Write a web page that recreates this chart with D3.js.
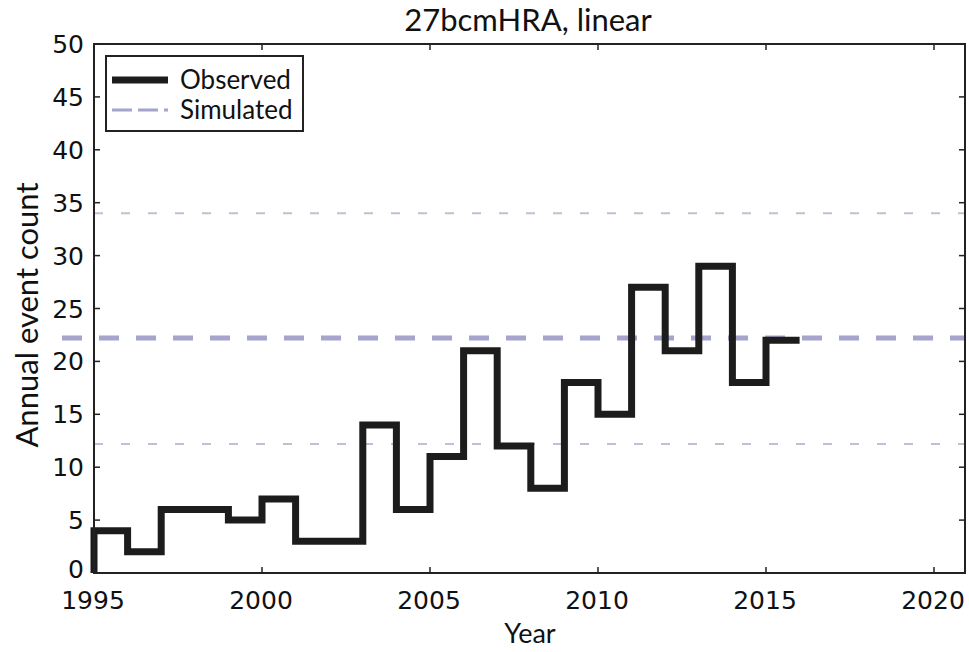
<!DOCTYPE html>
<html>
<head>
<meta charset="utf-8">
<script src="https://cdn.jsdelivr.net/npm/d3@7"></script>
<style>
  html, body { margin: 0; padding: 0; background: #fff; }
  svg { display: block; }
</style>
</head>
<body>
<svg id="chart" width="969" height="652"></svg>
<script>
// ---- data ----
const years = [1995,1996,1997,1998,1999,2000,2001,2002,2003,2004,2005,2006,2007,2008,2009,2010,2011,2012,2013,2014,2015];
const observed = [4,2,6,6,5,7,3,3,14,6,11,21,12,8,18,15,27,21,29,18,22];
const lastYearEnd = 2016;
const simLow = 12.2;
const simMedian = 22.2;
const simHigh = 34;
const xTicks = [1995, 2000, 2005, 2010, 2015, 2020];
const yTicks = [0, 5, 10, 15, 20, 25, 30, 35, 40, 45, 50];
const titleText = "27bcmHRA, linear";
const xLabel = "Year";
const yLabel = "Annual event count";
const legendLabels = ["Observed", "Simulated"];

// ---- layout ----
const pLeft = 94, pRight = 965, pTop = 44, pBottom = 573;
const svg = d3.select("#chart");
const x = d3.scaleLinear().domain([1995, 2020]).range([pLeft, 934]);
const y = d3.scaleLinear().domain([0, 50]).range([pBottom, pTop]);

const tickFont = "'DejaVu Sans', sans-serif";
const textFont = "Lato, 'Open Sans', sans-serif";

// simulated lines
const simColor = "#a4a4cc";
const simLight = "#c0c0d4";
[simHigh, simLow].forEach(v => {
  svg.append("line")
    .attr("x1", pLeft).attr("x2", pRight)
    .attr("y1", y(v)).attr("y2", y(v))
    .attr("stroke", simLight).attr("stroke-width", 2)
    .attr("stroke-dasharray", "9,18");
});
svg.append("line")
  .attr("x1", 62).attr("x2", pRight)
  .attr("y1", y(simMedian)).attr("y2", y(simMedian))
  .attr("stroke", simColor).attr("stroke-width", 5)
  .attr("stroke-dasharray", "20,17");

// observed step line
const pts = [[years[0], 0]].concat(years.map((yr, i) => [yr, observed[i]]));
pts.push([lastYearEnd, observed[observed.length - 1]]);
const line = d3.line().x(d => x(d[0])).y(d => y(d[1])).curve(d3.curveStepAfter);
svg.append("path")
  .attr("d", line(pts))
  .attr("fill", "none")
  .attr("stroke", "#1c1c1c")
  .attr("stroke-width", 7)
  .attr("stroke-linejoin", "miter");

// frame
svg.append("rect")
  .attr("x", pLeft).attr("y", pTop)
  .attr("width", pRight - pLeft).attr("height", pBottom - pTop)
  .attr("fill", "none").attr("stroke", "#222").attr("stroke-width", 2);

// ticks (inward, all sides)
const tl = 6;
xTicks.forEach(t => {
  svg.append("line").attr("x1", x(t)).attr("x2", x(t)).attr("y1", pBottom).attr("y2", pBottom - tl).attr("stroke", "#222").attr("stroke-width", 1.5);
  svg.append("line").attr("x1", x(t)).attr("x2", x(t)).attr("y1", pTop).attr("y2", pTop + tl).attr("stroke", "#222").attr("stroke-width", 1.5);
});
yTicks.forEach(t => {
  svg.append("line").attr("x1", pLeft).attr("x2", pLeft + tl).attr("y1", y(t)).attr("y2", y(t)).attr("stroke", "#222").attr("stroke-width", 1.5);
  svg.append("line").attr("x1", pRight).attr("x2", pRight - tl).attr("y1", y(t)).attr("y2", y(t)).attr("stroke", "#222").attr("stroke-width", 1.5);
});

// tick labels
svg.append("g").selectAll("text").data(xTicks).join("text")
  .attr("x", d => x(d) - 1).attr("y", 609)
  .attr("text-anchor", "middle")
  .attr("font-family", tickFont).attr("font-size", 25).attr("fill", "#111")
  .text(d => d);
svg.append("g").selectAll("text").data(yTicks).join("text")
  .attr("x", 84).attr("y", d => y(d) + (d === 0 ? 5 : 9))
  .attr("text-anchor", "end")
  .attr("font-family", tickFont).attr("font-size", 25).attr("fill", "#111")
  .text(d => d);

// title and axis labels
svg.append("text").attr("x", 528).attr("y", 31).attr("text-anchor", "middle")
  .attr("font-family", textFont).attr("font-size", 31).attr("fill", "#111").text(titleText);
svg.append("text").attr("x", 530).attr("y", 643).attr("text-anchor", "middle")
  .attr("font-family", textFont).attr("font-size", 27).attr("fill", "#111").text(xLabel);
svg.append("text").attr("transform", "translate(38,315) rotate(-90)").attr("text-anchor", "middle")
  .attr("font-family", textFont).attr("font-size", 31).attr("fill", "#111").text(yLabel);

// legend
const lg = svg.append("g");
lg.append("rect").attr("x", 106).attr("y", 56).attr("width", 197).attr("height", 75)
  .attr("fill", "#fff").attr("stroke", "#222").attr("stroke-width", 2);
lg.append("line").attr("x1", 112).attr("x2", 168).attr("y1", 80).attr("y2", 80)
  .attr("stroke", "#1c1c1c").attr("stroke-width", 7);
lg.append("line").attr("x1", 112).attr("x2", 168).attr("y1", 110).attr("y2", 110)
  .attr("stroke", simColor).attr("stroke-width", 3).attr("stroke-dasharray", "20,6");
lg.selectAll("text.lab").data(legendLabels).join("text")
  .attr("x", 180).attr("y", (d, i) => 89 + i * 30)
  .attr("font-family", textFont).attr("font-size", 26).attr("fill", "#111")
  .text(d => d);
</script>
</body>
</html>
